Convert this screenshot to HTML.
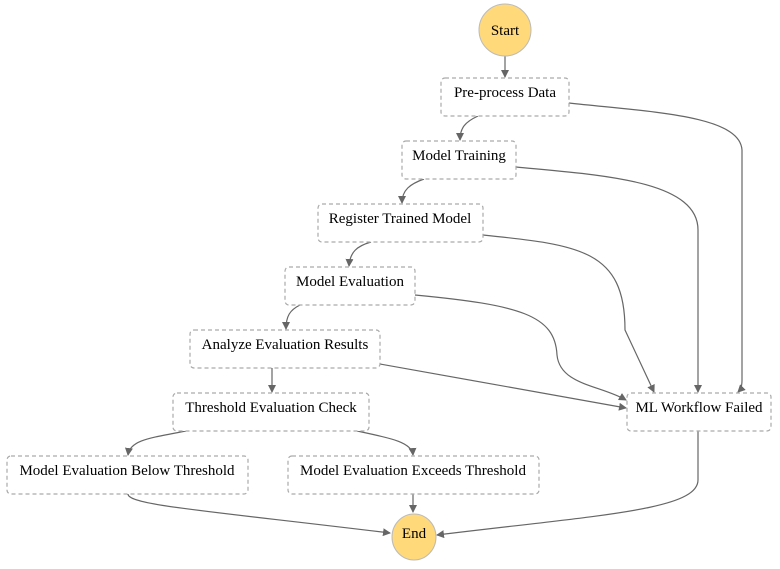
<!DOCTYPE html>
<html><head><meta charset="utf-8"><style>
html,body{margin:0;padding:0;background:#fff;}
svg{display:block;}
.b{fill:#fff;stroke:#aaa;stroke-width:1.2;stroke-dasharray:4 3;}
.e{fill:none;stroke:#666;stroke-width:1.2;}
</style></head><body>
<svg width="780" height="569" viewBox="0 0 780 569" font-family="'Liberation Serif', 'DejaVu Serif', serif" font-size="15">
<defs><marker id="a" markerWidth="8" markerHeight="8" refX="7" refY="4" orient="auto" markerUnits="userSpaceOnUse"><path d="M0,0 L8,4 L0,8 z" fill="#666"/></marker></defs>
<path class="e" marker-end="url(#a)" d="M505,56 L505,77"/>
<path class="e" marker-end="url(#a)" d="M478,116 C465,122 460,128 460,140"/>
<path class="e" marker-end="url(#a)" d="M424,179 C410,184 402,190 402,203"/>
<path class="e" marker-end="url(#a)" d="M371,242 C357,246 350,252 349,266"/>
<path class="e" marker-end="url(#a)" d="M300,305 C290,310 286,316 286,329"/>
<path class="e" marker-end="url(#a)" d="M272,368 L272,392"/>
<path class="e" marker-end="url(#a)" d="M186,431 C150,438 130,440 128,455"/>
<path class="e" marker-end="url(#a)" d="M357,431 C390,438 412,442 413,455"/>
<path class="e" marker-end="url(#a)" d="M128,494 C128,505 200,510 390,533"/>
<path class="e" marker-end="url(#a)" d="M413,494 L413,512"/>
<path class="e" marker-end="url(#a)" d="M698,431 L698,480 C698,510 600,515 437,535"/>
<path class="e" marker-end="url(#a)" d="M569,103 C650,112 740,115 742,150 L742,380 C742,388 740,390 738,392"/>
<path class="e" marker-end="url(#a)" d="M516,167 C600,175 698,180 698,230 L698,392"/>
<path class="e" marker-end="url(#a)" d="M483,235 C580,245 625,250 625,330 L654,392"/>
<path class="e" marker-end="url(#a)" d="M415,295 C520,305 555,315 557,355 C560,385 600,385 626,400"/>
<path class="e" marker-end="url(#a)" d="M380,364 L626,408"/>
<circle cx="505" cy="30" r="26" fill="#ffd97a" stroke="#bbb"/>
<text x="505" y="35" text-anchor="middle">Start</text>
<ellipse cx="414" cy="537" rx="22" ry="23" fill="#ffd97a" stroke="#bbb"/>
<text x="414" y="538" text-anchor="middle">End</text>
<rect class="b" x="441" y="78" width="128" height="38" rx="4"/><text x="505" y="97" text-anchor="middle">Pre-process Data</text>
<rect class="b" x="402" y="141" width="114" height="38" rx="4"/><text x="459" y="160" text-anchor="middle">Model Training</text>
<rect class="b" x="318" y="204" width="165" height="38" rx="4"/><text x="400" y="223" text-anchor="middle">Register Trained Model</text>
<rect class="b" x="285" y="267" width="130" height="38" rx="4"/><text x="350" y="286" text-anchor="middle">Model Evaluation</text>
<rect class="b" x="190" y="330" width="190" height="38" rx="4"/><text x="285" y="349" text-anchor="middle">Analyze Evaluation Results</text>
<rect class="b" x="173" y="393" width="196" height="38" rx="4"/><text x="271" y="412" text-anchor="middle">Threshold Evaluation Check</text>
<rect class="b" x="627" y="393" width="144" height="38" rx="4"/><text x="699" y="412" text-anchor="middle">ML Workflow Failed</text>
<rect class="b" x="7" y="456" width="241" height="38" rx="4"/><text x="127" y="475" text-anchor="middle">Model Evaluation Below Threshold</text>
<rect class="b" x="288" y="456" width="251" height="38" rx="4"/><text x="413" y="475" text-anchor="middle">Model Evaluation Exceeds Threshold</text>
</svg>
</body></html>
